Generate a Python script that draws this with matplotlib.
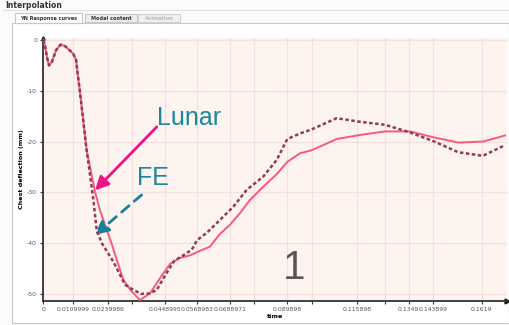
import matplotlib
matplotlib.use("Agg")
import matplotlib.pyplot as plt
from matplotlib.patches import Rectangle

# time (s) and chest deflection (mm) for the two responses
t_start = [0.0, 0.0006, 0.0014, 0.0021, 0.0032, 0.0047, 0.0064, 0.0080, 0.0097, 0.0110, 0.0121, 0.0126, 0.0134]
d_start = [0.0, -1.0, -3.5, -5.0, -4.3, -2.0, -0.9, -1.2, -2.0, -2.7, -3.9, -6.3, -9.6]

t_lunar = t_start + [0.0160, 0.0191, 0.0209, 0.0254, 0.0295, 0.0326, 0.0357, 0.0394, 0.0431, 0.0468,
                     0.0505, 0.0542, 0.0579, 0.0615, 0.0652, 0.0689, 0.0726, 0.0763, 0.0812, 0.0862,
                     0.0901, 0.0948, 0.0991, 0.1083, 0.1169, 0.1262, 0.1354, 0.1444, 0.1532, 0.1623, 0.1705]
d_lunar = d_start + [-21.7, -29.9, -33.5, -40.4, -47.2, -49.5, -51.2, -49.9, -46.9, -44.1,
                     -42.9, -42.4, -41.5, -40.7, -38.2, -36.4, -34.1, -31.5, -28.9, -26.4,
                     -24.0, -22.3, -21.7, -19.5, -18.7, -18.0, -18.0, -19.2, -20.2, -20.0, -18.8]

t_fe = t_start + [0.0160, 0.0185, 0.0197, 0.0216, 0.0259, 0.0302, 0.0332, 0.0361, 0.0394, 0.0419,
                  0.0446, 0.0483, 0.0520, 0.0548, 0.0568, 0.0603, 0.0653, 0.0702, 0.0751, 0.0812,
                  0.0862, 0.0901, 0.0948, 0.0991, 0.1083, 0.1169, 0.1262, 0.1354, 0.1444, 0.1532,
                  0.1623, 0.1705]
d_fe = d_start + [-21.7, -31.5, -37.4, -40.0, -43.7, -48.2, -49.2, -50.0, -49.9, -49.2,
                  -46.7, -43.5, -42.3, -41.3, -39.4, -38.0, -35.4, -32.8, -29.5, -26.9,
                  -23.6, -19.5, -18.4, -17.6, -15.4, -16.1, -16.7, -18.2, -20.0, -22.1,
                  -22.8, -20.7]

x_ticks = [0, 0.0109999, 0.0239986, 0.0328, 0.0448995, 0.0568983, 0.0688971, 0.0778,
           0.089898, 0.0992, 0.115898, 0.1262, 0.1349, 0.143899, 0.1619]
x_tick_labels = ["0", "0.0109999", "0.0239986", "", "0.0448995", "0.0568983", "0.0688971", "",
                 "0.089898", "", "0.115898", "", "0.1349", "0.143899", "0.1619"]
y_ticks = [-50, -40, -30, -20, -10, 0]

fig = plt.figure(figsize=(5.09, 3.25), dpi=100)

# window chrome in pixel coordinates
bg = fig.add_axes([0, 0, 1, 1], zorder=-5)
bg.set_xlim(0, 509)
bg.set_ylim(325, 0)
bg.axis("off")
bg.add_patch(Rectangle((0, 0), 509, 325, color="#fbfbfb"))
bg.text(5, 6, "Interpolation", fontsize=5.5, fontweight="bold", color="#333333", va="center")
bg.plot([3, 509], [10, 10], color="#e0e0e0", lw=0.8)
bg.add_patch(Rectangle((12.5, 22.5), 497, 300, facecolor="white", edgecolor="#c8c8c8", lw=0.8))
bg.add_patch(Rectangle((15, 13), 67, 10, facecolor="white", edgecolor="#c8c8c8", lw=0.8))
bg.add_patch(Rectangle((85, 13.5), 52, 8.5, facecolor="#eeeeee", edgecolor="#c8c8c8", lw=0.8))
bg.add_patch(Rectangle((138, 13.5), 42, 8.5, facecolor="#f0f0f0", edgecolor="#d0d0d0", lw=0.8))
bg.text(48.5, 18.3, "YN Response curves", fontsize=3.6, fontweight="bold", color="#333333", ha="center", va="center")
bg.text(111, 18, "Modal content", fontsize=3.6, fontweight="bold", color="#333333", ha="center", va="center")
bg.text(159, 18, "Animation", fontsize=3.6, fontweight="bold", color="#bbbbbb", ha="center", va="center")

ax = fig.add_axes([43.3 / 509, 24 / 325, 463.7 / 509, 263 / 325])
ax.set_facecolor("#fdf3ef")
ax.set_xlim(0, 0.1712)
ax.set_ylim(-51.4, 0.4)

ax.plot(t_lunar, d_lunar, color="#f85a7a", lw=1.4, zorder=3)
ax.plot(t_fe, d_fe, color="#8e3d57", lw=1.8, ls=(0, (1.4, 1.0)), zorder=4)

ax.set_xticks(x_ticks)
ax.set_xticklabels(x_tick_labels)
ax.set_yticks(y_ticks)
ax.set_yticklabels([str(v) for v in y_ticks])
ax.tick_params(labelsize=4.4, colors="#333333", labelcolor="#555555", length=2.5, width=0.8, pad=2)
ax.grid(True, color="#f2e0dc", lw=0.8)
ax.set_axisbelow(True)
for side in ("top", "right"):
    ax.spines[side].set_visible(False)
for side in ("left", "bottom"):
    ax.spines[side].set_color("#333333")
    ax.spines[side].set_linewidth(1.3)
ax.plot(1, 0, ">", color="#111111", ms=3.5, transform=ax.transAxes, clip_on=False)
ax.plot(0, 1, "^", color="#333333", ms=2.5, transform=ax.transAxes, clip_on=False)

ax.set_xlabel("time", fontsize=4.6, fontweight="bold", labelpad=1)
ax.set_ylabel("Chest deflection (mm)", fontsize=4.6, fontweight="bold", labelpad=2)

# callouts
ax.text(0.042, -16.7, "Lunar", fontsize=18, color="#1a87a0", family="Liberation Sans", va="baseline")
ax.text(0.0345, -28.5, "FE", fontsize=18, color="#1a87a0", family="Liberation Sans", va="baseline")
ax.annotate("", xy=(0.0191, -29.6), xytext=(0.0419, -17.1),
            arrowprops=dict(arrowstyle="-|>", color="#ee1188", lw=2, mutation_scale=20, shrinkA=0, shrinkB=0))
ax.annotate("", xy=(0.0191, -38.4), xytext=(0.0363, -30.5),
            arrowprops=dict(arrowstyle="-|>", color="#14819b", lw=2, ls=(0, (3.5, 2.5)), mutation_scale=20,
                            shrinkA=0, shrinkB=0))
ax.text(0.0927, -44.9, "1", fontsize=29, color="#555555", family="Liberation Sans", ha="center", va="center")

fig.savefig("out.png", dpi=100)
